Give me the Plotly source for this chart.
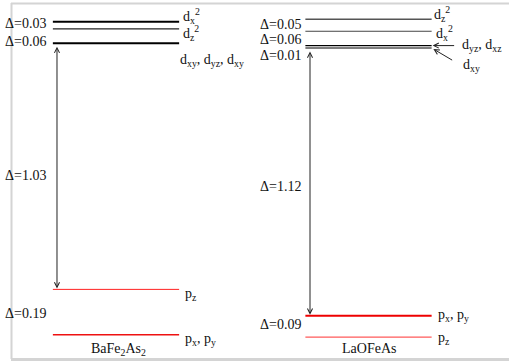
import plotly.graph_objects as go

# ---------------- data ----------------
materials = ["BaFe<sub>2</sub>As<sub>2</sub>", "LaOFeAs"]

ba_labels = ["d<sub>x</sub><sup>2</sup>", "d<sub>z</sub><sup>2</sup>",
             "d<sub>xy</sub>, d<sub>yz</sub>, d<sub>xy</sub>",
             "p<sub>z</sub>", "p<sub>x</sub>, p<sub>y</sub>"]
ba_energy = [0.0, -0.03, -0.09, -1.12, -1.31]
ba_gaps = ["Δ=0.03", "Δ=0.06", "Δ=1.03", "Δ=0.19"]

la_labels = ["d<sub>z</sub><sup>2</sup>", "d<sub>x</sub><sup>2</sup>",
             "d<sub>yz</sub>, d<sub>xz</sub>", "d<sub>xy</sub>",
             "p<sub>x</sub>, p<sub>y</sub>", "p<sub>z</sub>"]
la_energy = [0.01, -0.04, -0.10, -0.11, -1.23, -1.32]
la_gaps = ["Δ=0.05", "Δ=0.06", "Δ=0.01", "Δ=1.12", "Δ=0.09"]

# ---------------- styles ----------------
FONT = "Liberation Serif"
TXT = "#111111"
HALF = 0.25
centers = [0.0, 1.0]

ba_colors = ["#000000", "#222222", "#000000", "#ff2020", "#ee1111"]
ba_widths = [2.0, 1.3, 2.0, 1.0, 1.6]
la_colors = ["#555555", "#444444", "#000000", "#000000", "#ee0000", "#ff5a5a"]
la_widths = [1.5, 1.0, 1.2, 1.2, 2.0, 1.2]

# right-label offsets (pixels)
ba_lab_dx = [2, 2, -1, 4, 4]
ba_lab_dy = [6, -4, -17, -5, -5]
la_lab_dx = [0, 2, 0, 0, 4, 4]
la_lab_dy = [5, -2, 0, 0, 0, -1]

ba_gap_dy = [1.3, -5.5, -8.7, -1]
la_gap_dy = [1, -1.5, -9, -5, 1.5]

fig = go.Figure()

def add_levels(c, energies, colors, widths):
    for e, col, w in zip(energies, colors, widths):
        fig.add_trace(go.Scatter(x=[c - HALF, c + HALF], y=[e, e], mode="lines",
                                 line=dict(color=col, width=w), hoverinfo="skip",
                                 showlegend=False))

add_levels(centers[0], ba_energy, ba_colors, ba_widths)
add_levels(centers[1], la_energy, la_colors, la_widths)

ann = []
# right labels
for i, (lab, e) in enumerate(zip(ba_labels, ba_energy)):
    ann.append(dict(x=centers[0] + HALF, y=e, text=lab, showarrow=False,
                    xanchor="left", yanchor="middle", xshift=ba_lab_dx[i],
                    yshift=ba_lab_dy[i]))
for i, (lab, e) in enumerate(zip(la_labels, la_energy)):
    if i in (2, 3):
        continue
    ann.append(dict(x=centers[1] + HALF, y=e, text=la_labels[i], showarrow=False,
                    xanchor="left", yanchor="middle", xshift=la_lab_dx[i],
                    yshift=la_lab_dy[i]))
# pointing labels for LaOFeAs d_yz,d_xz and d_xy
ann.append(dict(x=centers[1] + HALF, y=la_energy[2], text="", showarrow=True,
                arrowhead=5, arrowsize=1, arrowwidth=1, arrowcolor="#222",
                ax=24, ay=0, standoff=1))
ann.append(dict(x=centers[1] + HALF, y=la_energy[3], text="", showarrow=True,
                arrowhead=5, arrowsize=1, arrowwidth=1, arrowcolor="#222",
                ax=22, ay=13, standoff=2))
ann.append(dict(x=centers[1] + HALF, y=la_energy[2], text=la_labels[2], showarrow=False,
                xanchor="left", yanchor="middle", xshift=28, yshift=0))
ann.append(dict(x=centers[1] + HALF, y=la_energy[3], text=la_labels[3], showarrow=False,
                xanchor="left", yanchor="middle", xshift=29, yshift=-18))

# gap labels
for i, g in enumerate(ba_gaps):
    ym = (ba_energy[i] + ba_energy[i + 1]) / 2
    ann.append(dict(x=-0.4475, y=ym, text=g, showarrow=False, xanchor="left",
                    yanchor="middle", yshift=ba_gap_dy[i]))
for i, g in enumerate(la_gaps):
    ym = (la_energy[i] + la_energy[i + 1]) / 2
    ann.append(dict(x=0.5624, y=ym, text=g, showarrow=False, xanchor="left",
                    yanchor="middle", yshift=la_gap_dy[i]))

# double arrows for the main gap
for c, top, bot in [(centers[0] - 0.2337, ba_energy[2], ba_energy[3]),
                    (centers[1] - 0.2317, la_energy[3], la_energy[4])]:
    ann.append(dict(x=c, y=bot, ax=c, ay=top, axref="x", ayref="y", text="",
                    showarrow=True, arrowhead=5, startarrowhead=5, arrowside="end+start",
                    arrowsize=1, startarrowsize=1, arrowwidth=1, arrowcolor="#222",
                    standoff=1, startstandoff=2))

# material names
ann.append(dict(x=centers[0] + 0.01, y=ba_energy[-1], text=materials[0], showarrow=False,
                yanchor="middle", yshift=-15))
ann.append(dict(x=centers[1], y=la_energy[-1], text=materials[1], showarrow=False,
                yanchor="middle", yshift=-11))

for a in ann:
    a.setdefault("font", dict(family=FONT, size=14, color=TXT))

fig.update_layout(
    width=509, height=362,
    margin=dict(l=0, r=0, t=0, b=0),
    font=dict(family=FONT, size=14, color=TXT),
    paper_bgcolor="white", plot_bgcolor="white",
    xaxis=dict(range=[-0.4594, 1.5564], visible=False, fixedrange=True),
    yaxis=dict(range=[-1.4238, 0.0908], visible=False, fixedrange=True),
    annotations=ann,
    shapes=[
        dict(type="line", xref="paper", yref="paper", x0=11.5/509, x1=11.5/509,
             y0=1 - 3/362, y1=1 - 359/362, line=dict(color="#d4d4d4", width=2)),
        dict(type="line", xref="paper", yref="paper", x0=11/509, x1=1.01,
             y0=1 - 3.5/362, y1=1 - 3.5/362, line=dict(color="#d4d4d4", width=2)),
        dict(type="line", xref="paper", yref="paper", x0=11/509, x1=1.01,
             y0=1 - 359.5/362, y1=1 - 359.5/362, line=dict(color="#d4d4d4", width=3)),
    ],
    showlegend=False,
)

fig.write_html("out.html", config={"displayModeBar": False},
               post_script="document.body.style.margin='0';document.body.style.padding='0';")
